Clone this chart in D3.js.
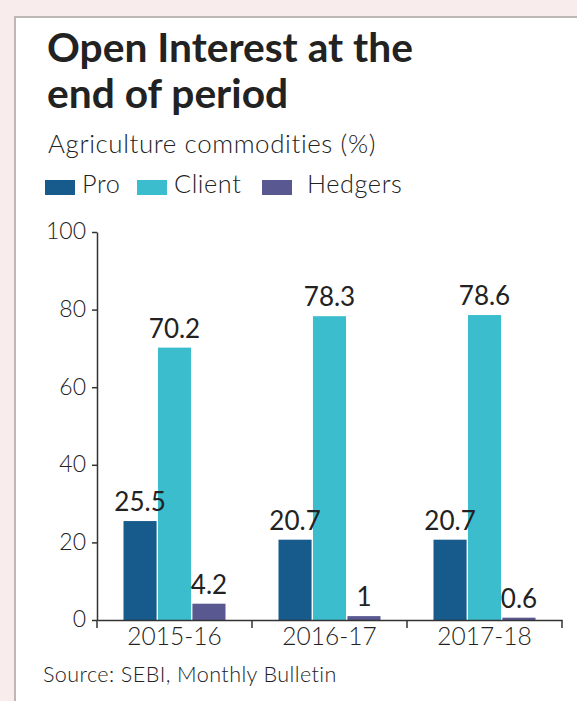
<!DOCTYPE html>
<html>
<head>
<meta charset="utf-8">
<script src="https://cdn.jsdelivr.net/npm/d3@7"></script>
<style>
  html, body { margin: 0; padding: 0; background: #f8ecec; }
  svg { display: block; }
  text { font-family: Lato, "Open Sans", sans-serif; fill: #222; }
</style>
</head>
<body>
<svg id="chart" width="577" height="701"></svg>
<script>
// data
const periods = ["2015-16", "2016-17", "2017-18"];
const seriesNames = ["Pro", "Client", "Hedgers"];
const pro = [25.5, 20.7, 20.7];
const client = [70.2, 78.3, 78.6];
const hedgers = [4.2, 1, 0.6];
const yTicks = [0, 20, 40, 60, 80, 100];
const colors = ["#165b8b", "#3bbdcd", "#5a5890"];

const rows = periods.map((p, i) => ({ period: p, values: [pro[i], client[i], hedgers[i]] }));

const svg = d3.select("#chart");

// scale a text's font size so it spans the width seen in the reference
function fit(sel, width) {
  const fs = +sel.attr("font-size");
  const w = sel.node().getComputedTextLength();
  const nfs = fs * width / w;
  sel.attr("font-size", nfs);
  return nfs;
}

// white panel with grey frame on left/top
svg.append("rect").attr("x", 15).attr("y", 17).attr("width", 600).attr("height", 720)
  .attr("fill", "#fff").attr("stroke", "#bfb6b6").attr("stroke-width", 2);

// title
const title = svg.append("text").attr("x", 47).attr("y", 62)
  .attr("font-size", 37).attr("font-weight", 700).attr("fill", "#1a1a1a");
const t1 = title.append("tspan").attr("x", 47).text("Open Interest at the");
title.append("tspan").attr("x", 47).attr("dy", 46).text("end of period");
const tfs = 37 * 366 / t1.node().getComputedTextLength();
title.attr("font-size", tfs);

const sub = svg.append("text").attr("x", 48).attr("y", 153)
  .attr("font-size", 22).attr("font-weight", 300).attr("letter-spacing", 0.6)
  .text("Agriculture commodities (%)");
fit(sub, 331);

// legend
const legendX = [45, 137, 262];
const legend = svg.append("g").selectAll("g").data(seriesNames).join("g")
  .attr("transform", (d, i) => `translate(${legendX[i]},180)`);
legend.append("rect").attr("width", 30).attr("height", 15).attr("fill", (d, i) => colors[i]);
const legText = legend.append("text").attr("x", (d, i) => i === 2 ? 45 : 37).attr("y", 13)
  .attr("font-size", 22).attr("font-weight", 300).attr("letter-spacing", 0.6).text(d => d);
const lfs = fit(d3.select(legText.nodes()[2]), 96);
legText.attr("font-size", lfs);

// scales
const x = d3.scaleBand().domain(periods).range([97, 562]).padding(0);
const inner = d3.scaleBand().domain(seriesNames).range([0, 102]).paddingInner(0.04);
const y = d3.scaleLinear().domain([0, 100]).range([620, 232]);
const groupOffset = (x.bandwidth() - 102) / 2;

// bars
const groups = svg.append("g").selectAll("g").data(rows).join("g")
  .attr("transform", d => `translate(${x(d.period) + groupOffset},0)`);

groups.selectAll("rect").data(d => d.values).join("rect")
  .attr("x", (d, i) => inner(seriesNames[i]))
  .attr("y", d => y(d))
  .attr("width", inner.bandwidth())
  .attr("height", d => y(0) - y(d))
  .attr("fill", (d, i) => colors[i]);

groups.selectAll("text").data(d => d.values).join("text")
  .attr("x", (d, i) => inner(seriesNames[i]) + inner.bandwidth() / 2)
  .attr("y", d => y(d) - 10)
  .attr("text-anchor", "middle")
  .attr("font-size", 26).attr("font-weight", 400).attr("fill", "#1a1a1a")
  .text(d => d);

// y axis
const yAxis = svg.append("g").attr("transform", "translate(97,0)")
  .call(d3.axisLeft(y).tickValues(yTicks).tickSize(5).tickSizeOuter(0));
yAxis.select(".domain").attr("stroke", "#333").attr("stroke-width", 1.5);
yAxis.selectAll(".tick line").attr("stroke", "#333").attr("stroke-width", 1.5);
yAxis.selectAll(".tick text").attr("font-size", 23).attr("font-weight", 300)
  .attr("font-family", "Lato, sans-serif").attr("fill", "#222").attr("x", -11).attr("dy", "0.3em");

// x axis: labels centred, separators at band edges
const xAxis = svg.append("g").attr("transform", "translate(0,620)")
  .call(d3.axisBottom(x).tickSize(0).tickPadding(8));
xAxis.select(".domain").attr("stroke", "#333").attr("stroke-width", 1.5);
xAxis.selectAll(".tick text").attr("font-size", 24.5).attr("font-weight", 300)
  .attr("font-family", "Lato, sans-serif").attr("fill", "#222");

const edges = periods.map(p => x(p)).concat([x.range()[1]]);
xAxis.selectAll("line.sep").data(edges).join("line").attr("class", "sep")
  .attr("x1", d => d).attr("x2", d => d).attr("y1", 0).attr("y2", 8)
  .attr("stroke", "#333").attr("stroke-width", 1.5);

const src = svg.append("text").attr("x", 43).attr("y", 682)
  .attr("font-size", 20).attr("font-weight", 300).attr("fill", "#333").attr("letter-spacing", 0.4)
  .text("Source: SEBI, Monthly Bulletin");
fit(src, 295);
</script>
</body>
</html>
